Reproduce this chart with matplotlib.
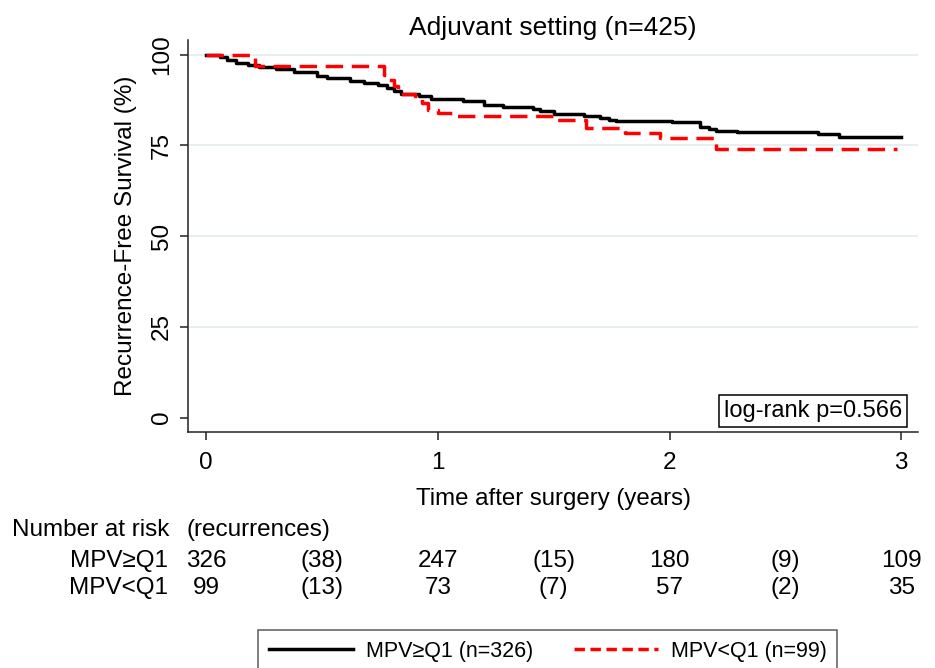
import numpy as np
import matplotlib
matplotlib.use("Agg")
import matplotlib.pyplot as plt
from matplotlib.lines import Line2D
from matplotlib.transforms import blended_transform_factory

plt.rcParams['font.family'] = ['Liberation Sans', 'DejaVu Sans']

# Kaplan-Meier steps
t_hi = [0, 0.06, 0.09, 0.13, 0.18, 0.23, 0.30, 0.38, 0.48, 0.52, 0.62, 0.68,
        0.74, 0.78, 0.81, 0.84, 0.92, 0.97, 1.11, 1.20, 1.28, 1.41, 1.44, 1.50,
        1.63, 1.70, 1.74, 1.77, 2.01, 2.13, 2.17, 2.20, 2.29, 2.64, 2.73, 3.00]
s_hi = [100, 99.3, 98.6, 97.7, 97.2, 96.6, 95.9, 95.2, 94.0, 93.6, 92.8, 92.2,
        91.5, 90.8, 89.9, 89.2, 88.5, 87.8, 87.1, 86.2, 85.6, 85.0, 84.4, 83.6,
        83.0, 82.5, 82.1, 81.6, 81.3, 80.0, 79.5, 79.0, 78.6, 78.1, 77.3, 77.3]

t_lo = [0, 0.21, 0.77, 0.79, 0.81, 0.83, 0.90, 0.93, 0.96, 1.00, 1.06, 1.51,
        1.64, 1.81, 1.96, 2.20, 2.98]
s_lo = [100, 96.8, 94.5, 93.1, 91.3, 89.2, 88.5, 86.7, 84.8, 84.0, 83.0, 82.1,
        79.8, 78.4, 77.0, 74.0, 74.0]

# number at risk table
risk_times = [0, 1, 2, 3]
rec_times = [0.5, 1.5, 2.5]
at_risk_hi = [326, 247, 180, 109]
rec_hi = [38, 15, 9]
at_risk_lo = [99, 73, 57, 35]
rec_lo = [13, 7, 2]

label_hi = "MPV\u2265Q1"
label_lo = "MPV<Q1"
n_hi = 326
n_lo = 99

yticks = [0, 25, 50, 75, 100]
xticks = [0, 1, 2, 3]

fig = plt.figure(figsize=(9.35, 6.68), dpi=100)
ax = fig.add_axes([0.201, 0.353, 0.781, 0.587])

for y in yticks[1:]:
    ax.axhline(y, color='#e6eeef', lw=1.3, zorder=0)

ax.step(t_hi, s_hi, where='post', color='black', lw=2.5)
ax.step(t_lo, s_lo, where='post', color='#ff0000', lw=2.5, dashes=(5, 2.5))

ax.set_xlim(-0.078, 3.073)
ax.set_ylim(-4, 104)
ax.set_xticks(xticks)
ax.set_yticks(yticks)
ax.set_yticklabels([str(v) for v in yticks], rotation=90, va='center')
ax.tick_params(axis='both', length=6, width=1.1, color='#222222')
ax.tick_params(axis='x', labelsize=17.5, pad=8)
ax.tick_params(axis='y', labelsize=17.5, pad=5)
for side in ['top', 'right']:
    ax.spines[side].set_visible(False)
for side in ['left', 'bottom']:
    ax.spines[side].set_linewidth(1.1)
    ax.spines[side].set_color('#222222')

ax.set_title("Adjuvant setting (n=425)", fontsize=19, pad=3)
ax.set_xlabel("Time after surgery (years)", fontsize=17.3, labelpad=10)
ax.set_ylabel("Recurrence-Free Survival (%)", fontsize=17.5, labelpad=10)

ax.text(0.978, 0.054, "log-rank p=0.566", transform=ax.transAxes, fontsize=17,
        ha='right', va='center',
        bbox=dict(boxstyle='square,pad=0.2', fc='white', ec='black', lw=1.1))

# risk table below the axis
tr = blended_transform_factory(ax.transData, fig.transFigure)
fs = 17.5
y_head = 1 - 530 / 668
y_r1 = 1 - 561 / 668
y_r2 = 1 - 588 / 668
fig.text(12 / 935, y_head, "Number at risk", fontsize=fs, ha='left', va='center')
fig.text(187 / 935, y_head, "(recurrences)", fontsize=fs, ha='left', va='center')
fig.text(168 / 935, y_r1, label_hi, fontsize=fs, ha='right', va='center')
fig.text(168 / 935, y_r2, label_lo, fontsize=fs, ha='right', va='center')
for t, a, b in zip(risk_times, at_risk_hi, at_risk_lo):
    fig.text(t, y_r1, str(a), transform=tr, fontsize=fs, ha='center', va='center')
    fig.text(t, y_r2, str(b), transform=tr, fontsize=fs, ha='center', va='center')
for t, a, b in zip(rec_times, rec_hi, rec_lo):
    fig.text(t, y_r1, f"({a})", transform=tr, fontsize=fs, ha='center', va='center')
    fig.text(t, y_r2, f"({b})", transform=tr, fontsize=fs, ha='center', va='center')

handles = [Line2D([], [], color='black', lw=2.5),
           Line2D([], [], color='#ff0000', lw=2.5, dashes=(3, 1.6))]
leg = fig.legend(handles, [f"{label_hi} (n={n_hi})", f"{label_lo} (n={n_lo})"],
                 loc='upper left', bbox_to_anchor=(258 / 935, 1 - 630 / 668),
                 ncol=2, fontsize=15.5, frameon=True, fancybox=False,
                 handlelength=3.9, handletextpad=0.6, columnspacing=1.9,
                 borderpad=0.5, borderaxespad=0)
leg.get_frame().set_edgecolor('#333333')
leg.get_frame().set_linewidth(1.1)

fig.savefig("out.png", dpi=100)
